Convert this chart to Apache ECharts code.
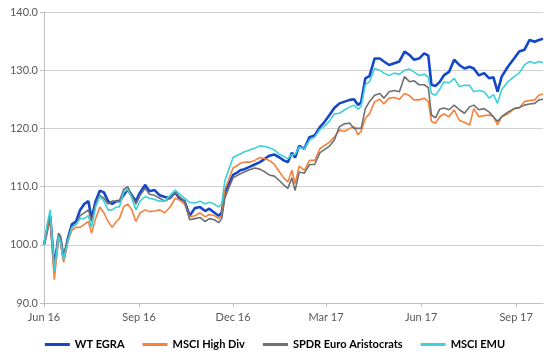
<!DOCTYPE html>
<html>
<head>
<meta charset="utf-8">
<script src="https://cdn.jsdelivr.net/npm/echarts@6/dist/echarts.min.js"></script>
<style>html,body{margin:0;padding:0;background:#fff}#c{width:550px;height:359px}</style>
</head>
<body>
<div id="c"></div>
<script>
const dates = ['2016-06-15','2016-06-18','2016-06-21','2016-06-25','2016-06-29','2016-07-01','2016-07-04','2016-07-08','2016-07-12','2016-07-16',
'2016-07-20','2016-07-24','2016-07-28','2016-07-31','2016-08-04','2016-08-08','2016-08-12','2016-08-16','2016-08-20','2016-08-24',
'2016-08-27','2016-08-31','2016-09-04','2016-09-08','2016-09-12','2016-09-16','2016-09-21','2016-09-25','2016-09-30','2016-10-05',
'2016-10-10','2016-10-15','2016-10-20','2016-10-24','2016-10-29','2016-11-03','2016-11-08','2016-11-13','2016-11-18','2016-11-22',
'2016-11-27','2016-12-01','2016-12-04','2016-12-07','2016-12-11','2016-12-15','2016-12-18','2016-12-22','2016-12-26','2016-12-31',
'2017-01-05','2017-01-10','2017-01-15','2017-01-19','2017-01-24','2017-01-29','2017-02-02','2017-02-06','2017-02-10','2017-02-13',
'2017-02-17','2017-02-22','2017-02-27','2017-03-04','2017-03-09','2017-03-13','2017-03-18','2017-03-23','2017-03-28','2017-04-02',
'2017-04-07','2017-04-11','2017-04-15','2017-04-18','2017-04-22','2017-04-26','2017-05-01','2017-05-06','2017-05-10','2017-05-15',
'2017-05-20','2017-05-25','2017-05-30','2017-06-04','2017-06-08','2017-06-13','2017-06-18','2017-06-22','2017-06-25','2017-06-29',
'2017-07-03','2017-07-07','2017-07-12','2017-07-17','2017-07-22','2017-07-27','2017-08-01','2017-08-05','2017-08-10','2017-08-15',
'2017-08-20','2017-08-24','2017-08-28','2017-09-01','2017-09-07','2017-09-13','2017-09-18','2017-09-23','2017-09-28','2017-10-03',
'2017-10-07','2017-10-11'];

const wtEgra = [100,102.5,105,96,101.5,101,97.5,101,103.5,104,
106,107,107.5,104.5,107.5,109.3,109,107.5,107,107.5,
107.5,108.5,109.5,108.5,107.5,109,110.3,109.2,109.4,108.5,
108.2,108,109,108,107.5,105,106.3,106.5,105.8,106.2,
105.5,105,105.5,109,110.5,112,112.3,112.8,113,113.4,
113.8,114.2,114.8,115.3,115.5,115,114.5,114.2,115.8,115,
117,116.5,118.5,118.8,120.2,121,122.2,123.5,124.3,124.6,
124.9,125,124,124.5,128.6,129,132,132,131.5,130.9,
131.2,131.5,133.2,132.6,131.8,132,132.9,132.5,127.5,127.3,
128,129.1,129.7,131.8,130.9,130.3,130.6,130.3,129.1,129.5,
128.6,128.8,126.3,128.9,130.6,132,133.2,133.5,135.2,134.9,
135.2,135.4];

const msciHighDiv = [100,102.5,104.5,94,101,100.5,97,100.5,102.5,103,
103,103.5,104,102,104.5,106.5,105.5,104,103,104,
104.5,106.5,107,106,104,105.5,106,105.7,105.8,106,
105.5,106.5,108,107.7,107,104.8,105,105.5,104.8,105.2,
105,104.5,105,109.5,111.3,113.2,113.5,114,114.2,114.2,
114.5,115,114.8,114.5,113.8,112.5,111.5,110.8,112.8,110.5,
113.5,112.8,114.5,114.5,116.5,117,117.6,118.5,119.7,119.5,
120,120.3,118.9,119.5,121.7,122.5,124.6,125,124.2,125.2,
125.3,125,126,125.6,124.9,124.9,125.2,124.6,121.2,120.9,
122,122.5,122,123.2,121.4,121,120.6,123.4,122,122.2,
122.3,122,120.6,122,122.5,123.4,123.5,124.6,124.8,124.9,
125.7,125.9];

const spdrAristocrats = [100,103,105,96,102,101.5,98,101,103,103.5,
105,105.5,106,104,107,108.5,108,107,107.5,107.5,
107.5,109.5,110,108.5,107,108.5,109.7,108.7,108.5,108,
107.5,108,109,108.3,107.5,104.3,104.5,104.7,104,104.5,
104.3,103.8,104.5,108,109.8,111.5,111.8,112.2,112.5,112.9,
113.2,113,112.5,112,111.8,111,110.3,109.7,111.5,109.3,
112.5,112.3,113.8,113.8,115.8,116.3,116.9,118,120.3,120.8,
120.9,120,120,120,123.4,124.6,125.7,126,125.2,126.3,
126.5,126.3,128.9,128,128.2,127.5,127.5,127,122.3,121.8,
123.3,123.5,123.2,124,123.2,122.6,123.7,124,123.2,123.4,
122.8,122,121.2,122,122.8,123.4,123.6,124,124.2,124.3,
124.9,125];

const msciEmu = [100,103.5,106,95.5,101.5,100.5,97.5,100.5,103,103.5,
104.5,104.5,105,103,106.5,108.3,107.5,106,106,106.5,
106.5,109,109.5,108,106,107.5,108.3,108,107.8,107.5,
107.5,108.5,109.4,108.8,108,107.3,107.2,107.5,107,107.3,
107,106.5,107,111,113,115,115.3,115.6,116,116.3,
116.6,117,116.9,116.7,116.3,115.5,115.2,114.8,115.5,115.5,
116.8,116.5,118,118.5,119.8,120.3,121.2,122.5,122.6,123.2,
123.7,124,123.3,123.8,127.5,128,130.3,130,129.5,129.1,
129.5,129.3,130,130.2,129.7,129.1,129.3,128.8,126,125.7,
126.7,128,127.8,128.6,127.2,127.4,127.4,126.3,126.5,126.3,
125.2,125.8,124.3,126.7,128,128.9,129.5,130.9,131.5,131.2,
131.5,131.3];

const seriesNames = ['WT EGRA','MSCI High Div','SPDR Euro Aristocrats','MSCI EMU'];
const tickDates = ['2016-06-15','2016-09-15','2016-12-15','2017-03-15','2017-06-15','2017-09-15'];
const tickLabels = ['Jun 16','Sep 16','Dec 16','Mar 17','Jun 17','Sep 17'];
const axisEndDate = '2017-10-11';

const DAY = 86400000;
const toDay = s => { const p = s.split('-').map(Number); return (Date.UTC(p[0], p[1]-1, p[2]) - Date.UTC(2016,5,15)) / DAY; };
const tickDays = tickDates.map(toDay);
const labelOf = {};
tickDays.forEach((d,i) => labelOf[d] = tickLabels[i]);

const colors = ['#1446c8','#f5813c','#6f7072','#3fd0d8'];
const widths = [2.6,1.6,1.6,1.6];
const allValues = [wtEgra, msciHighDiv, spdrAristocrats, msciEmu];

const FONT = 'Lato, "Liberation Sans", sans-serif';
const chart = echarts.init(document.getElementById('c'), null, {renderer:'canvas'});
chart.setOption({
  animation: false,
  backgroundColor: '#fff',
  grid: {left: 44, right: 7, top: 12, bottom: 56, containLabel: false},
  legend: {
    top: 334, left: 'center',
    itemWidth: 25, itemHeight: 3, itemGap: 18,
    icon: 'rect',
    textStyle: {fontFamily: FONT, fontWeight: 'bold', fontSize: 11, color: '#000'},
    data: seriesNames
  },
  xAxis: {
    type: 'value', min: 0, max: toDay(axisEndDate),
    splitLine: {show: false},
    axisLine: {show: true, lineStyle: {color: '#bfbfbf', width: 1}},
    axisTick: {show: true, length: 4, customValues: tickDays, lineStyle: {color: '#bfbfbf'}},
    axisLabel: {customValues: tickDays, formatter: v => labelOf[v] || '', fontFamily: FONT, fontSize: 11, color: '#595959', margin: 9}
  },
  yAxis: {
    type: 'value', min: 90, max: 140, interval: 10,
    axisLine: {show: true, lineStyle: {color: '#bfbfbf', width: 1}},
    axisTick: {show: true, length: 4, lineStyle: {color: '#bfbfbf'}},
    splitLine: {show: true, lineStyle: {color: '#d0d0d0', width: 1}},
    axisLabel: {formatter: v => v.toFixed(1), fontFamily: FONT, fontSize: 11, color: '#595959', margin: 6}
  },
  series: seriesNames.map((n, i) => ({
    name: n, type: 'line', showSymbol: false, symbol: 'none',
    color: colors[i],
    lineStyle: {width: widths[i], color: colors[i]},
    data: dates.map((d, k) => [toDay(d), allValues[i][k]])
  }))
});
</script>
</body>
</html>
